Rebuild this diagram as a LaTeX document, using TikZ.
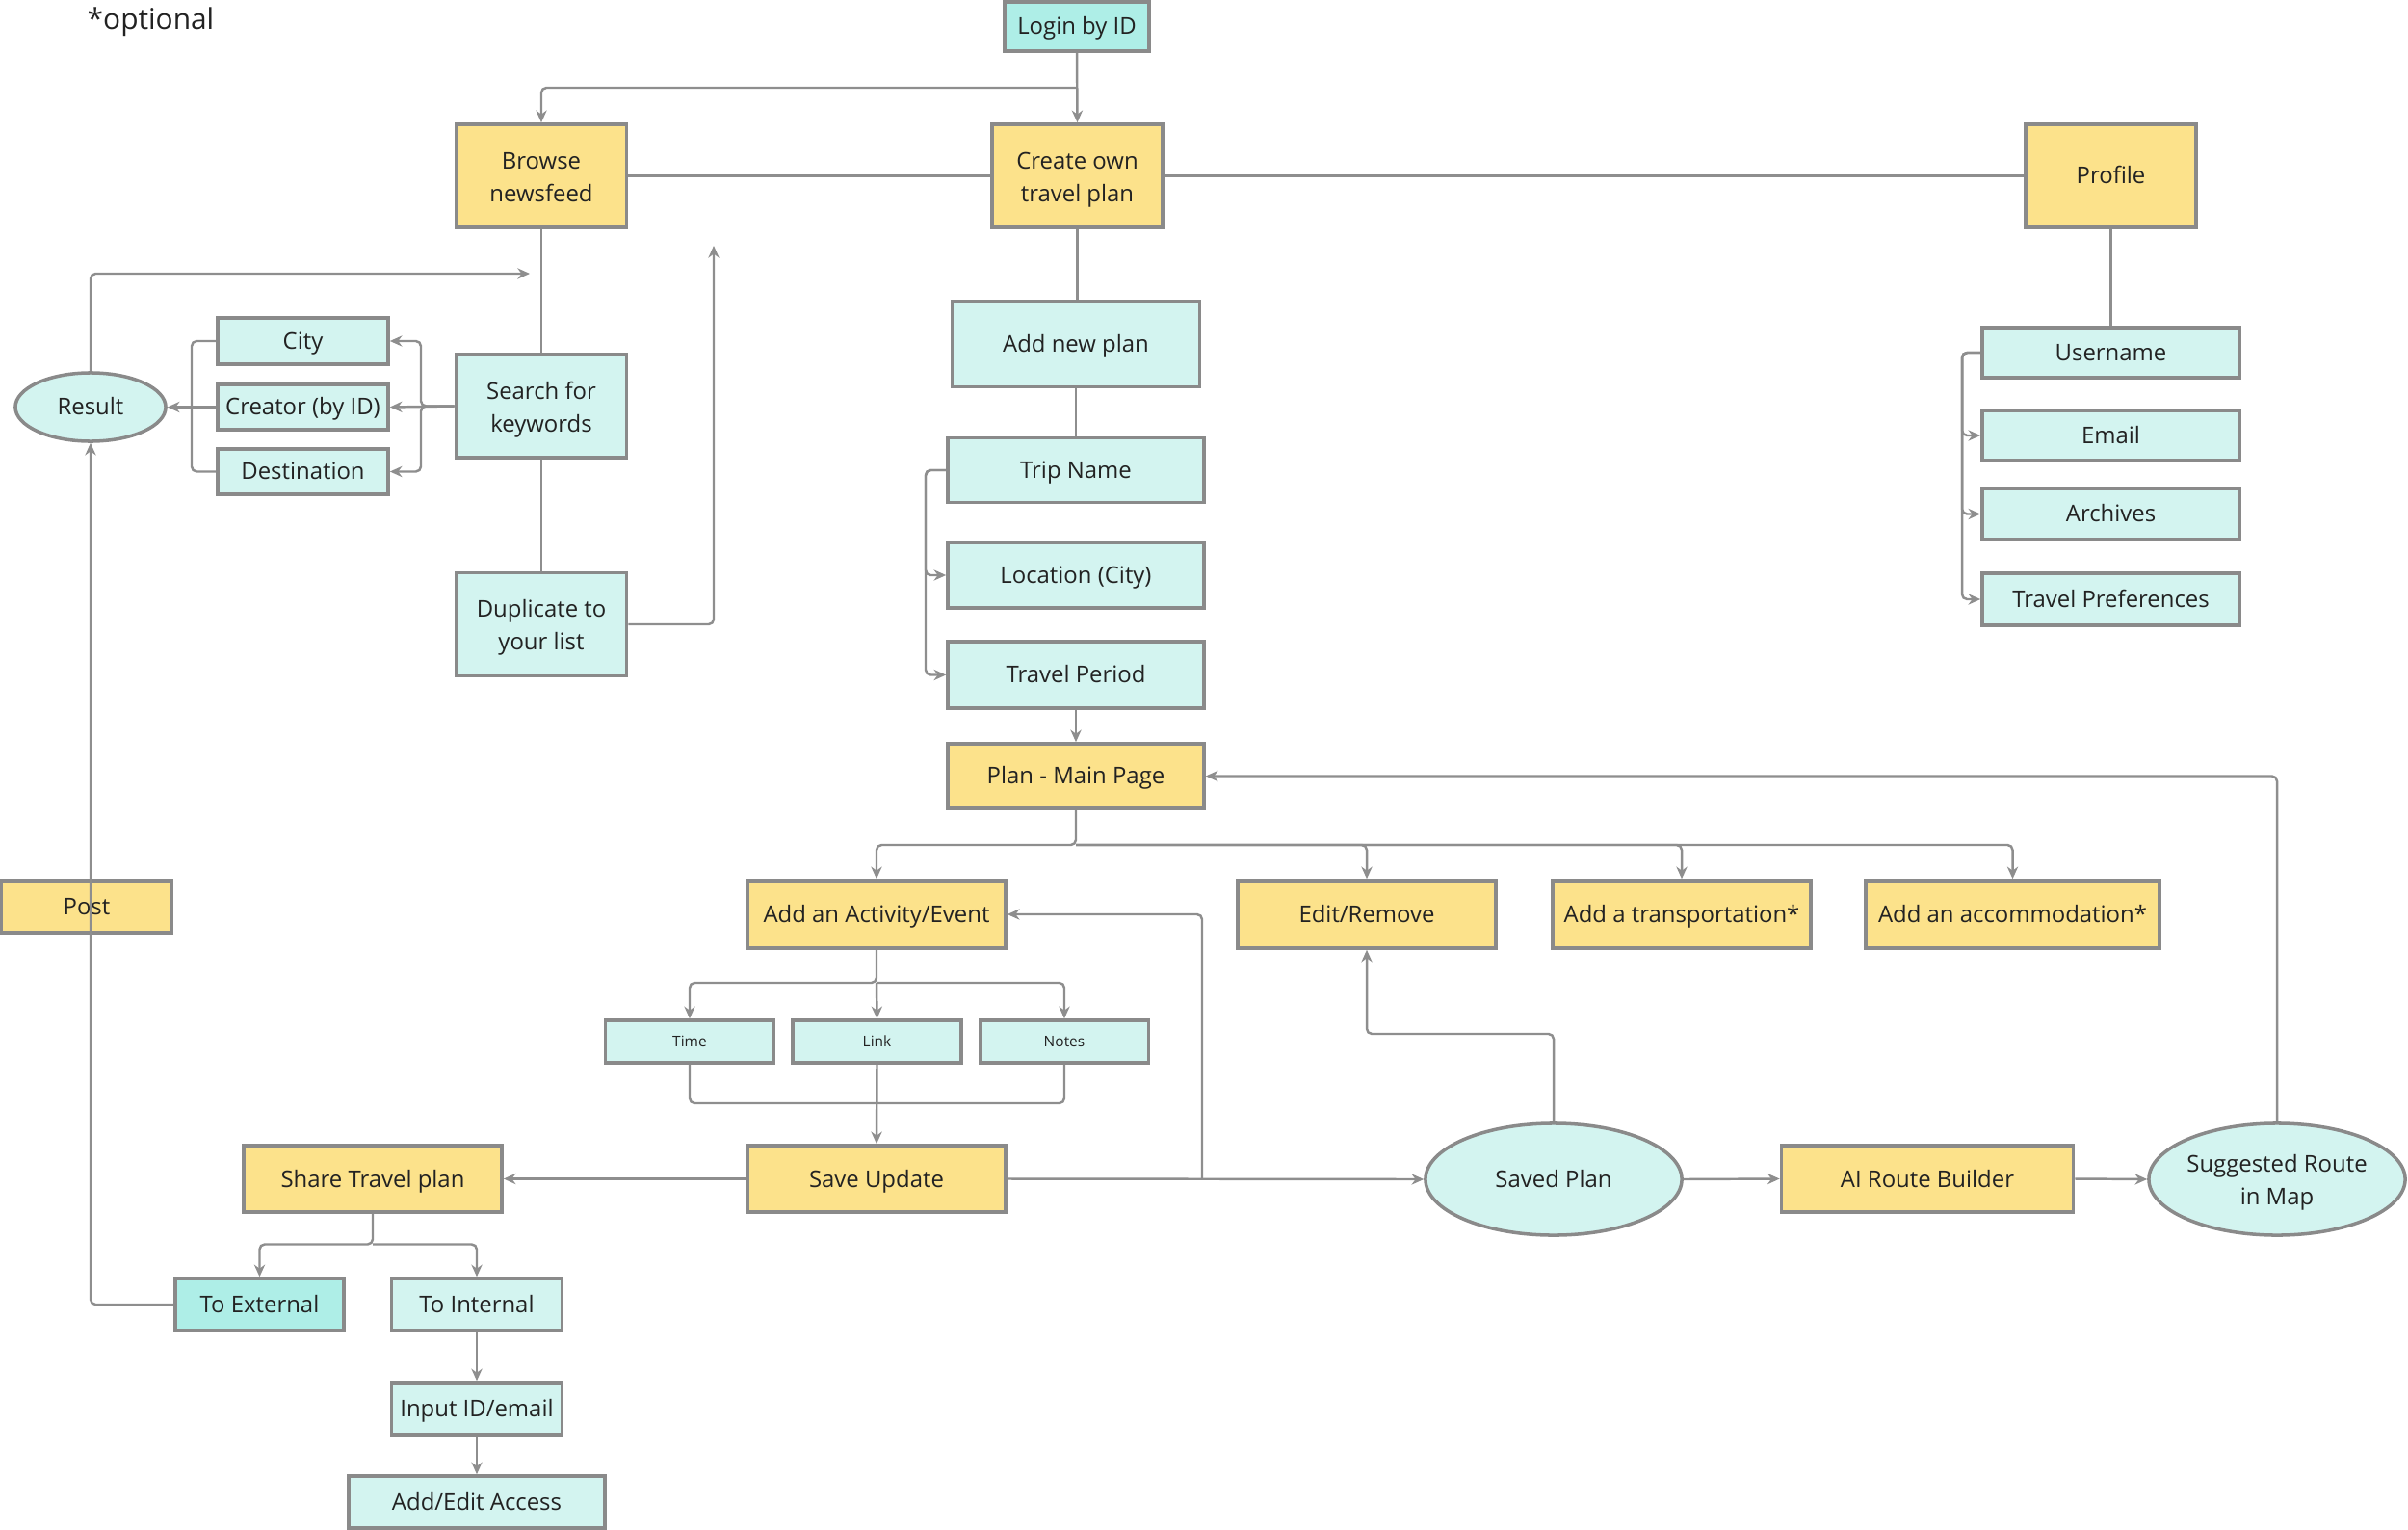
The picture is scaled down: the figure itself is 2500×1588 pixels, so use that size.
\documentclass[tikz,border=0pt]{standalone}
\usepackage{fontspec}
\setmainfont{Open Sans}
\usetikzlibrary{arrows.meta,shapes.geometric}
\definecolor{ylw}{HTML}{FCE28B}
\definecolor{cyl}{HTML}{D3F4F0}
\definecolor{cyd}{HTML}{AEEEE7}
\definecolor{bgray}{HTML}{8A8A8A}
\definecolor{lgray}{HTML}{8E8E8E}
\definecolor{txt}{HTML}{222222}
\newcommand{\mystrut}{\rule[-0.32em]{0pt}{1.35em}}
\newcommand{\tl}{\rule[-0.32em]{0pt}{1.46em}}
\tikzset{
  box/.style={draw=bgray, line width=1pt, inner sep=0pt, align=center, text=txt,
    font=\fontsize{6.8}{9.2}\selectfont,
    execute at begin node=\mystrut, execute at end node=\mystrut},
  twoline/.style={font=\fontsize{6.8}{9.6}\selectfont},
  ybox/.style={box, fill=ylw},
  cbox/.style={box, fill=cyl},
  dbox/.style={box, fill=cyd},
  ebox/.style={box, ellipse, fill=cyl},
  smallbox/.style={cbox, font=\fontsize{4.4}{5.5}\selectfont},
  ln/.style={draw=lgray, line width=0.7pt, rounded corners=1.5pt},
  arr/.style={ln, -{Stealth[length=3.6pt,width=3.2pt]}}
}
\begin{document}
\begin{tikzpicture}[x=0.01cm,y=-0.01cm]
\useasboundingbox (0,0) rectangle (2500,1588);
\node[text=txt, font=\fontsize{8.5}{10}\selectfont, anchor=west, inner sep=0pt] (opt) at (90,23) {*optional};
% top row
\node[dbox, minimum width=1.50cm, minimum height=0.51cm] (login) at (1118,27.5) {Login by ID};
\node[ybox, twoline, minimum width=1.77cm, minimum height=1.07cm] (browse) at (562,182.5) {\tl Browse\\newsfeed};
\node[ybox, twoline, minimum width=1.77cm, minimum height=1.07cm] (create) at (1118.5,182.5) {\tl Create own\\travel plan};
\node[ybox, minimum width=1.77cm, minimum height=1.07cm] (profile) at (2191.5,182.5) {Profile};
% plan column
\node[cbox, minimum width=2.57cm, minimum height=0.89cm] (addnew) at (1117,357) {Add new plan};
\node[cbox, minimum width=2.66cm, minimum height=0.67cm] (trip) at (1117,488) {Trip Name};
\node[cbox, minimum width=2.66cm, minimum height=0.68cm] (loc) at (1117,597) {Location (City)};
\node[cbox, minimum width=2.66cm, minimum height=0.69cm] (period) at (1117,700.5) {Travel Period};
\node[ybox, minimum width=2.66cm, minimum height=0.67cm] (mainpage) at (1117,805.5) {Plan - Main Page};
% profile column
\node[cbox, minimum width=2.67cm, minimum height=0.52cm] (username) at (2191.5,366) {Username};
\node[cbox, minimum width=2.67cm, minimum height=0.52cm] (email) at (2191.5,452) {Email};
\node[cbox, minimum width=2.67cm, minimum height=0.53cm] (archives) at (2191.5,533.5) {Archives};
\node[cbox, minimum width=2.67cm, minimum height=0.54cm] (prefs) at (2191.5,622) {Travel Preferences};
% search area
\node[cbox, minimum width=1.77cm, minimum height=0.48cm] (city) at (314.5,354) {City};
\node[cbox, minimum width=1.77cm, minimum height=0.47cm] (creator) at (314.5,422.5) {Creator (by ID)};
\node[cbox, minimum width=1.77cm, minimum height=0.47cm] (dest) at (314.5,489.5) {Destination};
\node[ebox, minimum width=1.56cm, minimum height=0.71cm] (result) at (94,422.5) {Result};
\node[cbox, twoline, minimum width=1.77cm, minimum height=1.07cm] (search) at (562,421.5) {\tl Search for\\keywords};
\node[cbox, twoline, minimum width=1.77cm, minimum height=1.07cm] (dup) at (562,648) {\tl Duplicate to\\your list};
% middle row
\node[ybox, minimum width=2.68cm, minimum height=0.70cm] (activity) at (910,949) {Add an Activity/Event};
\node[ybox, minimum width=2.68cm, minimum height=0.70cm] (edit) at (1419,949) {Edit/Remove};
\node[ybox, minimum width=2.68cm, minimum height=0.70cm] (transport) at (1746,949) {Add a transportation*};
\node[ybox, minimum width=3.05cm, minimum height=0.70cm] (accom) at (2089.5,949) {Add an accommodation*};
\node[smallbox, minimum width=1.75cm, minimum height=0.44cm] (time) at (716,1081) {Time};
\node[smallbox, minimum width=1.75cm, minimum height=0.44cm] (link) at (910.5,1081) {Link};
\node[smallbox, minimum width=1.75cm, minimum height=0.44cm] (notes) at (1105,1081) {Notes};
% bottom row
\node[ybox, minimum width=2.68cm, minimum height=0.69cm] (save) at (910,1223.5) {Save Update};
\node[ybox, minimum width=2.68cm, minimum height=0.69cm] (share) at (387,1223.5) {Share Travel plan};
\node[ebox, minimum width=2.66cm, minimum height=1.16cm] (saved) at (1613,1224) {Saved Plan};
\node[ybox, minimum width=3.03cm, minimum height=0.69cm] (ai) at (2001,1223.5) {AI Route Builder};
\node[ebox, twoline, minimum width=2.66cm, minimum height=1.16cm] (suggest) at (2364,1224) {\tl Suggested Route\\in Map};
\node[dbox, minimum width=1.75cm, minimum height=0.54cm] (toext) at (269.5,1354) {To External};
\node[cbox, minimum width=1.77cm, minimum height=0.54cm] (toint) at (495,1354) {To Internal};
\node[cbox, minimum width=1.77cm, minimum height=0.54cm] (input) at (495,1462) {Input ID/email};
\node[cbox, minimum width=2.66cm, minimum height=0.54cm] (access) at (495,1559) {Add/Edit Access};
\node[ybox, minimum width=1.77cm, minimum height=0.54cm] (post) at (90,941) {Post};

% coordinates
\coordinate (j1) at (1118,91);
\coordinate (pbx) at (2037,0);
\coordinate (tbx) at (961,0);
\coordinate (mb) at (1117,877);
\coordinate (ab) at (910,1020);
\coordinate (lb) at (910,1145);
\coordinate (sj) at (1248,1223.5);
\coordinate (ej) at (1613,1073);
\coordinate (sb) at (387,1291.5);
\coordinate (rt) at (550,284);
\coordinate (sx) at (437,0);
\coordinate (lx) at (199,0);
\coordinate (dt) at (741,255);

% connectors
\draw[arr] (login.south) -- (create.north);
\draw[arr] (j1) -| (browse.north);
\draw[ln] (browse.east) -- (create.west);
\draw[ln] (create.east) -- (profile.west);
\draw[ln] (create.south) -- (create.south |- addnew.north);
\draw[ln] (profile.south) -- (username.north);
\draw[arr] (username.west) -| (pbx |- email.west) -- (email.west);
\draw[arr] (username.west) -| (pbx |- archives.west) -- (archives.west);
\draw[arr] (username.west) -| (pbx |- prefs.west) -- (prefs.west);
\draw[ln] (addnew.south) -- (trip.north);
\draw[arr] (trip.west) -| (tbx |- loc.west) -- (loc.west);
\draw[arr] (trip.west) -| (tbx |- period.west) -- (period.west);
\draw[arr] (period.south) -- (mainpage.north);
\draw[arr] (mainpage.south) -- (mb) -| (activity.north);
\draw[arr] (mb) -| (edit.north);
\draw[arr] (mb) -| (transport.north);
\draw[arr] (mb) -| (accom.north);
\draw[arr] (activity.south) -- (ab) -| (time.north);
\draw[arr] (ab) -- (link.north);
\draw[arr] (ab) -| (notes.north);
\draw[ln] (time.south) |- (lb) -| (notes.south);
\draw[arr] (link.south) -- (save.north);
\draw[arr] (save.west) -- (share.east);
\draw[arr] (save.east) -- (saved.west);
\draw[arr] (sj) |- (activity.east);
\draw[arr] (saved.north) -- (ej) -| (edit.south);
\draw[arr] (saved.east) -- (ai.west);
\draw[arr] (ai.east) -- (suggest.west);
\draw[arr] (suggest.north) |- (mainpage.east);
\draw[arr] (share.south) -- (sb) -| (toext.north);
\draw[arr] (sb) -| (toint.north);
\draw[arr] (toint.south) -- (input.north);
\draw[arr] (input.south) -- (access.north);
\draw[arr] (toext.west) -| (result.south);
\draw[arr] (result.north) |- (rt);
\draw[arr] (search.west) -- (creator.east);
\draw[arr] (search.west) -| (sx |- city.east) -- (city.east);
\draw[arr] (search.west) -| (sx |- dest.east) -- (dest.east);
\draw[ln] (city.west) -| (lx |- creator.west);
\draw[ln] (dest.west) -| (lx |- creator.west);
\draw[arr] (creator.west) -- (result.east);
\draw[ln] (browse.south) -- (search.north);
\draw[ln] (search.south) -- (dup.north);
\draw[arr] (dup.east) -| (dt);
\end{tikzpicture}
\end{document}
